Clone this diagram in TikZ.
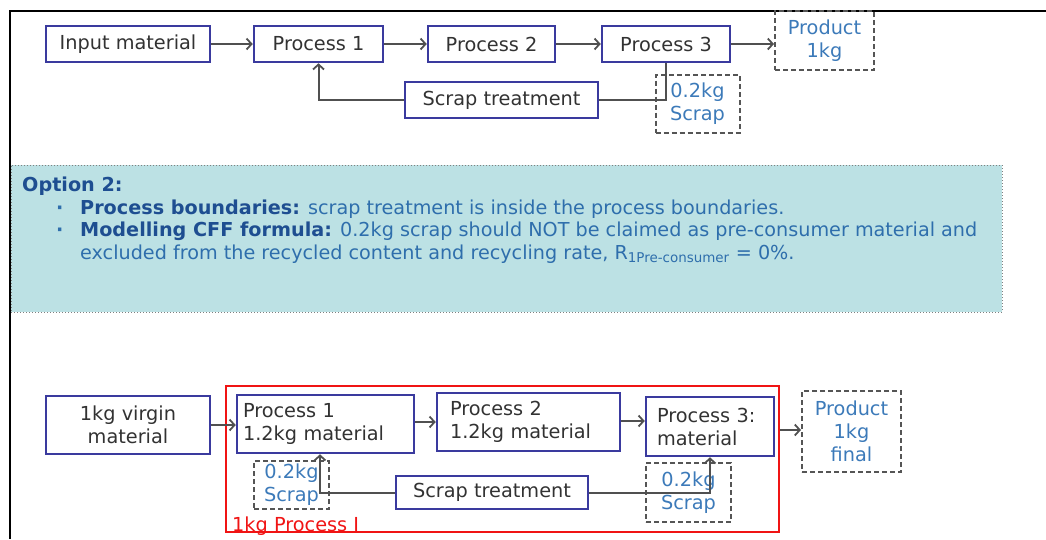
\documentclass[tikz,border=0pt]{standalone}
\usepackage{fontspec}
\setmainfont{DejaVu Sans}
\usetikzlibrary{arrows.meta}
\definecolor{boxblue}{RGB}{58,58,158}
\definecolor{txtgray}{RGB}{50,50,50}
\definecolor{linegray}{RGB}{80,80,80}
\definecolor{dashgray}{RGB}{85,85,85}
\definecolor{lblue}{RGB}{60,122,185}
\definecolor{tealfill}{RGB}{188,225,228}
\definecolor{optdark}{RGB}{30,78,145}
\definecolor{optblue}{RGB}{46,110,172}
\definecolor{redline}{RGB}{240,20,20}
\tikzset{
  procbox/.style={draw=boxblue, line width=2.5pt, rectangle, inner sep=0pt, text=txtgray,
    font=\fontsize{19.3}{23}\selectfont, align=center},
  dashbox/.style={draw=dashgray, line width=2pt, dash pattern=on 5pt off 3pt, rectangle,
    inner sep=0pt, text=lblue, font=\fontsize{19.3}{23}\selectfont, align=center},
  conn/.style={draw=linegray, line width=2pt},
  arr/.style={conn, -{Straight Barb[length=5pt,width=11pt,line width=1.8pt]}},
}
\begin{document}
\begin{tikzpicture}[x=1pt,y=-1pt]
\useasboundingbox (0,0) rectangle (1046,539);
% frame
\draw[black, line width=2pt] (1046,11) -- (10,11) -- (10,539);

% ---------- top diagram ----------
\node[procbox, minimum width=164pt, minimum height=36pt] (in1) at (128,44) {Input material};
\node[procbox, minimum width=129pt, minimum height=36pt] (p1) at (318.5,44) {Process 1};
\node[procbox, minimum width=127pt, minimum height=36pt] (p2) at (491.5,44) {Process 2};
\node[procbox, minimum width=128pt, minimum height=36pt] (p3) at (666,44) {Process 3};
\node[dashbox, minimum width=99pt, minimum height=59pt] (prod1) at (824.5,40.5) {Product\\1kg};
\node[procbox, minimum width=193pt, minimum height=36pt] (st1) at (501.5,100) {Scrap treatment};
\node[dashbox, minimum width=84pt, minimum height=58pt] (sc1) at (697.5,103.5) {0.2kg\\Scrap};

\draw[arr] (in1.east) -- (p1.west);
\draw[arr] (p1.east) -- (p2.west);
\draw[arr] (p2.east) -- (p3.west);
\draw[arr] (p3.east) -- (p3.east -| prod1.west);
\draw[conn] (p3.south) |- (st1.east);
\draw[arr] (st1.west) -| (p1.south);

% ---------- option box ----------
\node[draw=gray, dotted, line width=1pt, fill=tealfill, minimum width=991pt, minimum height=147pt,
  inner sep=0pt] (opt) at (506.5,238.5) {};
\node[anchor=north west, align=left, inner sep=0pt, text=optblue,
  font=\fontsize{19.2}{22.8}\selectfont] (opttext) at (22,176.5) {%
{\bfseries\color{optdark}Option 2:}\\
\hspace*{34pt}\makebox[24pt][l]{\bfseries ·}{\bfseries\color{optdark}Process boundaries:} scrap treatment is inside the process boundaries.\\
\hspace*{34pt}\makebox[24pt][l]{\bfseries ·}{\bfseries\color{optdark}Modelling CFF formula:} 0.2kg scrap should NOT be claimed as pre-consumer material and\\
\hspace*{58pt}excluded from the recycled content and recycling rate, R\textsubscript{1Pre-consumer} = 0\%.};

% ---------- bottom diagram ----------
\node[draw=redline, line width=2.5pt, minimum width=553pt, minimum height=146pt, inner sep=0pt]
  (redbox) at (502.5,459) {};
\node[anchor=base west, inner sep=0pt, text=redline, font=\fontsize{19.3}{22}\selectfont]
  (redlbl) at (232,531) {1kg Process I};

\node[procbox, minimum width=164pt, minimum height=58pt] (vm) at (128,425) {1kg virgin\\material};
\node[procbox, align=left, text width=165pt, inner xsep=6pt, minimum height=58pt] (bp1) at (325.5,424) {Process 1\\1.2kg material};
\node[procbox, align=left, text width=157pt, inner xsep=13pt, minimum height=58pt] (bp2) at (528.5,422) {Process 2\\1.2kg material};
\node[procbox, align=left, text width=106pt, inner xsep=11pt, minimum height=59pt] (bp3) at (710,426.5) {Process 3:\\material};
\node[dashbox, minimum width=99pt, minimum height=81pt] (bprod) at (851.5,431.5) {Product\\1kg\\final};
\node[dashbox, minimum width=75pt, minimum height=48pt] (bsc1) at (291.5,485) {0.2kg\\Scrap};
\node[procbox, minimum width=192pt, minimum height=33pt] (bst) at (492,492.5) {Scrap treatment};
\node[dashbox, minimum width=85pt, minimum height=59pt] (bsc2) at (688.5,492.5) {0.2kg\\Scrap};

\draw[arr] (vm.east) -- (vm.east -| bp1.west);
\draw[arr] (bp1.east |- bp2.west) -- (bp2.west);
\draw[arr] ([yshift=1pt]bp2.east) -- ([yshift=1pt]bp2.east -| bp3.west);
\draw[arr] ([yshift=-3.5pt]bp3.east -| redbox.east) -- ([yshift=-3.5pt]bp3.east -| bprod.west);
\draw[arr] (bst.east) -| (bp3.south);
\draw[arr] (bst.west) -| ([xshift=-5.5pt]bp1.south);
\end{tikzpicture}
\end{document}
